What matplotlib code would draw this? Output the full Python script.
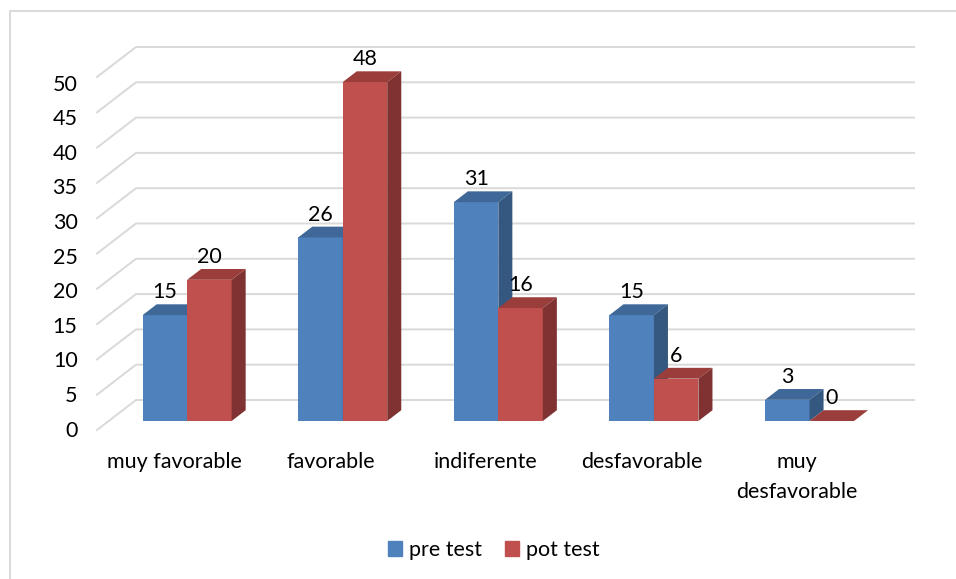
import matplotlib
matplotlib.use('Agg')
import matplotlib.pyplot as plt
from matplotlib.lines import Line2D
from matplotlib.patches import Patch

categories = ['muy favorable', 'favorable', 'indiferente', 'desfavorable', 'muy\ndesfavorable']
pre_test = [15, 26, 31, 15, 3]
pot_test = [20, 48, 16, 6, 0]
y_ticks = [0, 5, 10, 15, 20, 25, 30, 35, 40, 45, 50]

W, H = 956, 579
LEFT, RIGHT, Y0, Y50 = 97, 875, 430, 77

# oblique "3d" offsets for depth 0..1, in data units
DX = 39 / ((RIGHT - LEFT) / 5)
DY = 30 / ((Y0 - Y50) / 50)
BAR_D = 0.30
BAR_DEPTH = 0.36
BAR_W = 0.286
BAR_SHIFT = 0.004

plt.rcParams['font.family'] = ['Lato', 'DejaVu Sans']
plt.rcParams['font.size'] = 15.5

fig = plt.figure(figsize=(W / 100, H / 100), dpi=100)
ax = fig.add_axes([LEFT / W, 1 - Y0 / H, (RIGHT - LEFT) / W, (Y0 - Y50) / H])
ax.set_xlim(0, 5)
ax.set_ylim(0, 50)
for s in ax.spines.values():
    s.set_visible(False)

# chart border
frame_c = '#D9D9D9'
fig.add_artist(Line2D([10 / W, 10 / W, 1], [0, 1 - 11 / H, 1 - 11 / H], color=frame_c, lw=1.4))

# back wall gridlines
for v in y_ticks:
    ax.plot([0, DX, 5 + DX], [v, v + DY, v + DY], color=frame_c, lw=1.4, clip_on=False, zorder=1)


def bar3d(x, val, front, top, side):
    x0 = x + BAR_D * DX + BAR_SHIFT
    x1 = x0 + BAR_W
    y0 = BAR_D * DY
    y1 = y0 + val
    sx = BAR_DEPTH * DX
    sy = BAR_DEPTH * DY
    ax.fill([x0, x1, x1, x0], [y0, y0, y1, y1], color=front, lw=0, clip_on=False, zorder=3)
    ax.fill([x0, x1, x1 + sx, x0 + sx], [y1, y1, y1 + sy, y1 + sy], color=top, lw=0, clip_on=False, zorder=3)
    ax.fill([x1, x1 + sx, x1 + sx, x1], [y0, y0 + sy, y1 + sy, y1], color=side, lw=0, clip_on=False, zorder=3)
    ax.annotate(str(val), (x0 + BAR_W / 2, y1), xytext=(0, 16.5), textcoords='offset points',
                ha='center', va='center', color='black', zorder=5, annotation_clip=False)


for i in range(len(categories)):
    c = i + 0.5
    bar3d(c - BAR_W, pre_test[i], '#4F81BD', '#3F6797', '#355880')
    bar3d(c, pot_test[i], '#C0504D', '#9A3D3B', '#7F3231')

# tick labels sit a little tighter than the gridlines
ax.set_yticks([v * 346 / 353 + 0.2 for v in y_ticks])
ax.set_yticklabels([str(v) for v in y_ticks])
ax.set_xticks([i + 0.5 for i in range(len(categories))])
ax.set_xticklabels(categories, linespacing=1.6)
ax.tick_params(axis='y', length=0, pad=14, labelcolor='black')
ax.tick_params(axis='x', length=0, pad=16, labelcolor='black')

handles = [Patch(color='#4F81BD', label='pre test'), Patch(color='#C0504D', label='pot test')]
fig.legend(handles=handles, ncols=2, loc='center', bbox_to_anchor=(494 / W, 1 - 550 / H),
           frameon=False, handlelength=0.65, handleheight=0.65, handletextpad=0.33,
           columnspacing=1.05, borderpad=0, borderaxespad=0)

fig.savefig('out.png', dpi=100)
